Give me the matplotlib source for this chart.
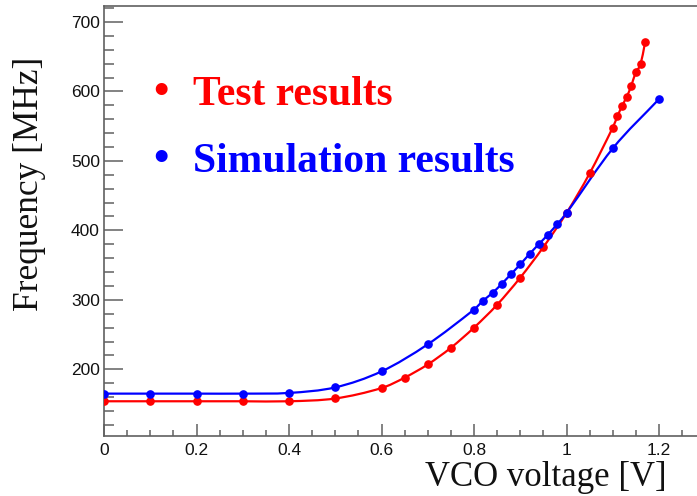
import numpy as np
import matplotlib
matplotlib.use("Agg")
import matplotlib.pyplot as plt
from matplotlib.ticker import MultipleLocator
from matplotlib.path import Path
from matplotlib.patches import PathPatch

test_v = [0, 0.1, 0.2, 0.3, 0.4, 0.5, 0.6, 0.65, 0.7, 0.75, 0.8, 0.85, 0.9, 0.95,
          1.0, 1.05, 1.1, 1.11, 1.12, 1.13, 1.14, 1.15, 1.16, 1.17]
test_f = [154, 154, 154, 154, 154, 158, 173, 188, 207, 231, 260, 293, 332, 376,
          425, 482, 548, 564, 579, 592, 608, 628, 639, 671]

sim_v = [0, 0.1, 0.2, 0.3, 0.4, 0.5, 0.6, 0.7, 0.8, 0.82, 0.84, 0.86, 0.88, 0.9,
         0.92, 0.94, 0.96, 0.98, 1.0, 1.1, 1.2]
sim_f = [165, 165, 165, 165, 166, 174, 197, 236, 286, 299, 310, 323, 337, 351,
         366, 380, 394, 409, 425, 518, 589]


def smooth_path(x, y):
    # cubic bezier through the points (like ROOT's "C" draw option)
    x = np.asarray(x, float)
    y = np.asarray(y, float)
    n = len(x)
    m = np.empty(n)
    m[0] = (y[1] - y[0]) / (x[1] - x[0])
    m[-1] = (y[-1] - y[-2]) / (x[-1] - x[-2])
    m[1:-1] = (y[2:] - y[:-2]) / (x[2:] - x[:-2])
    verts = [(x[0], y[0])]
    codes = [Path.MOVETO]
    for i in range(n - 1):
        h = (x[i + 1] - x[i]) / 3
        verts += [(x[i] + h, y[i] + m[i] * h),
                  (x[i + 1] - h, y[i + 1] - m[i + 1] * h),
                  (x[i + 1], y[i + 1])]
        codes += [Path.CURVE4] * 3
    return Path(verts, codes)


W, H = 697, 496
fig = plt.figure(figsize=(W / 100, H / 100), dpi=100)
ax = fig.add_axes([104 / W, 1 - 436 / H, 1 - 104 / W, (436 - 6) / H])

for xs, ys, c in [(test_v, test_f, "#ff0000"), (sim_v, sim_f, "#0000ff")]:
    ax.add_patch(PathPatch(smooth_path(xs, ys), fill=False, edgecolor=c,
                           lw=1.6, zorder=3))
    ax.plot(xs, ys, ls="none", color=c, marker="o", ms=5.2, zorder=4)

ax.set_xlim(0, (W - 104) / 462.5)
ax.set_ylim(104, 723)

ax.xaxis.set_major_locator(MultipleLocator(0.2))
ax.xaxis.set_minor_locator(MultipleLocator(0.05))
ax.yaxis.set_major_locator(MultipleLocator(100))
ax.yaxis.set_minor_locator(MultipleLocator(20))
ax.set_xticks([0, 0.2, 0.4, 0.6, 0.8, 1.0, 1.2])
ax.set_xticklabels(["0", "0.2", "0.4", "0.6", "0.8", "1", "1.2"])

gray = "#606060"
for s in ["left", "bottom", "top"]:
    ax.spines[s].set_color(gray)
    ax.spines[s].set_linewidth(1.2)
ax.spines["right"].set_visible(False)

ax.tick_params(axis="both", which="both", direction="in", color=gray, width=1.1,
               labelsize=12.5, labelcolor="#111111")
ax.tick_params(axis="y", which="major", length=13.5, pad=3)
ax.tick_params(axis="y", which="minor", length=7)
ax.tick_params(axis="x", which="major", length=8.5, pad=5)
ax.tick_params(axis="x", which="minor", length=4.5)
for lab in ax.get_xticklabels() + ax.get_yticklabels():
    lab.set_fontfamily("Liberation Sans")

# axis titles (ROOT style, aligned to the ends)
fig.text(667 / W, 1 - 486 / H, "VCO voltage [V]", family="Liberation Serif",
         fontsize=25, ha="right", va="baseline", color="#111111")
fig.text(30 / W, 1 - 57 / H, "Frequency [MHz]", family="Liberation Serif",
         fontsize=25.5, rotation=90, ha="center", va="top", color="#111111")

# legend as coloured text
fig.text(161 / W, 1 - 106 / H, "\u2022", family="Liberation Serif", fontsize=36,
         ha="center", va="baseline", color="#ff0000")
fig.text(193 / W, 1 - 105 / H, "Test results", family="Liberation Serif",
         fontsize=30, weight="bold", ha="left", va="baseline", color="#ff0000")
fig.text(161 / W, 1 - 173 / H, "\u2022", family="Liberation Serif", fontsize=36,
         ha="center", va="baseline", color="#0000ff")
fig.text(193 / W, 1 - 172 / H, "Simulation results", family="Liberation Serif",
         fontsize=30, weight="bold", ha="left", va="baseline", color="#0000ff")

fig.savefig("out.png", dpi=100)
